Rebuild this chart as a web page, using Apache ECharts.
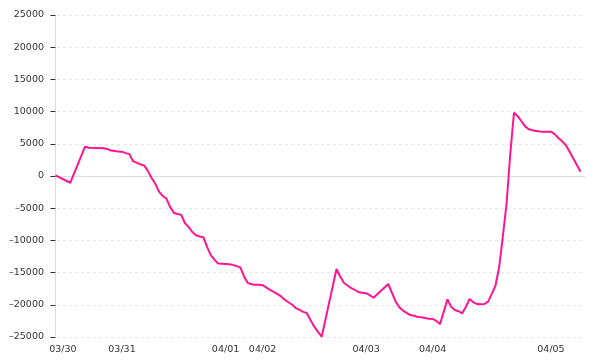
<!DOCTYPE html>
<html>
<head>
<meta charset="utf-8">
<script src="https://cdn.jsdelivr.net/npm/echarts@6/dist/echarts.min.js"></script>
<style>
  html, body { margin: 0; padding: 0; background: #fff; }
  #chart { width: 600px; height: 360px; }
</style>
</head>
<body>
<div id="chart"></div>
<script>
// sample index (position in the series) for each read vertex
const pointIndex = [0,4,8,9,13,14,15,17,18,19,20,21,23,24,25,26,27,28,29,30,31,32,33,34,35,36,37,38,39,40,41,42,43,44,47,48,49,50,51,52,53,54,55,56,57,58,59,60,61,62,63,64,65,66,67,68,69,70,71,72,76,77,78,79,80,81,82,83,84,85,86,90,92,93,94,95,96,97,98,99,100,101,102,103,104,105,106,107,108,109,110,111,112,113,114,115,116,117,118,119,120,121,122,123,124,125,126,127,128,129,130,131,132,133,134,135,136,137,138,139,140,141,142];
const pointValue = [100,-1050,4550,4400,4300,4200,3950,3800,3780,3550,3400,2300,1800,1650,800,-300,-1200,-2430,-3100,-3500,-4800,-5700,-5900,-6000,-7300,-7900,-8700,-9200,-9400,-9500,-11000,-12300,-13000,-13600,-13700,-13800,-14000,-14200,-15600,-16600,-16800,-16880,-16900,-16950,-17300,-17700,-18000,-18300,-18700,-19200,-19600,-20000,-20500,-20800,-21100,-21300,-22400,-23400,-24200,-24950,-14440,-15600,-16570,-17000,-17400,-17700,-18050,-18120,-18200,-18500,-18900,-16770,-19500,-20400,-20900,-21300,-21600,-21700,-21900,-21950,-22050,-22150,-22200,-22500,-23000,-21100,-19150,-20300,-20800,-21000,-21320,-20300,-19100,-19600,-19880,-19900,-19880,-19500,-18300,-17000,-14100,-9300,-4200,3500,9830,9300,8500,7700,7250,7100,7000,6900,6880,6880,6880,6500,5900,5400,4800,3800,2750,1700,670];

// day tick labels and the sample index where each day starts
const dayTickIndex = [2, 18, 46, 56, 84, 102, 134];
const dayTickLabel = ['03/30', '03/31', '04/01', '04/02', '04/03', '04/04', '04/05'];

const yMin = -25000, yMax = 25000, yStep = 5000;

const seriesData = pointIndex.map((x, i) => [x, pointValue[i]]);

const font = 'DejaVu Sans';
const chart = echarts.init(document.getElementById('chart'), null, { renderer: 'canvas' });
chart.setOption({
  animation: false,
  backgroundColor: '#ffffff',
  grid: { left: 51, right: 15, top: 15, bottom: 23, containLabel: false },
  xAxis: [
    {
      type: 'value',
      min: -1.2,
      max: 143.2,
      axisLine: { show: false, onZero: false },
      axisTick: { show: false },
      splitLine: { show: false },
      axisLabel: {
        customValues: dayTickIndex,
        formatter: v => dayTickLabel[dayTickIndex.indexOf(v)] || '',
        color: '#333',
        fontFamily: font,
        fontSize: 9.5,
        margin: 8
      }
    },
    {
      type: 'value',
      min: -1.2,
      max: 143.2,
      position: 'bottom',
      axisLine: { show: true, onZero: true, lineStyle: { color: '#dddddd', width: 1 } },
      axisTick: { show: false },
      axisLabel: { show: false },
      splitLine: { show: false }
    }
  ],
  yAxis: {
    type: 'value',
    min: yMin,
    max: yMax,
    interval: yStep,
    axisLine: { show: true, lineStyle: { color: '#dddddd', width: 1 } },
    axisTick: { show: true, length: 5, lineStyle: { color: '#333', width: 1 } },
    axisLabel: {
      color: '#333',
      fontFamily: font,
      fontSize: 9.5,
      margin: 7,
      formatter: v => String(v).replace('-', '\u2013')
    },
    splitLine: { show: true, lineStyle: { color: '#e6e6e6', type: [3, 3], width: 1 } }
  },
  series: [{
    type: 'line',
    xAxisIndex: 0,
    data: seriesData,
    symbol: 'none',
    showSymbol: false,
    smooth: false,
    lineStyle: { color: '#ff1493', width: 2 },
    itemStyle: { color: '#ff1493' }
  }]
});
</script>
</body>
</html>
